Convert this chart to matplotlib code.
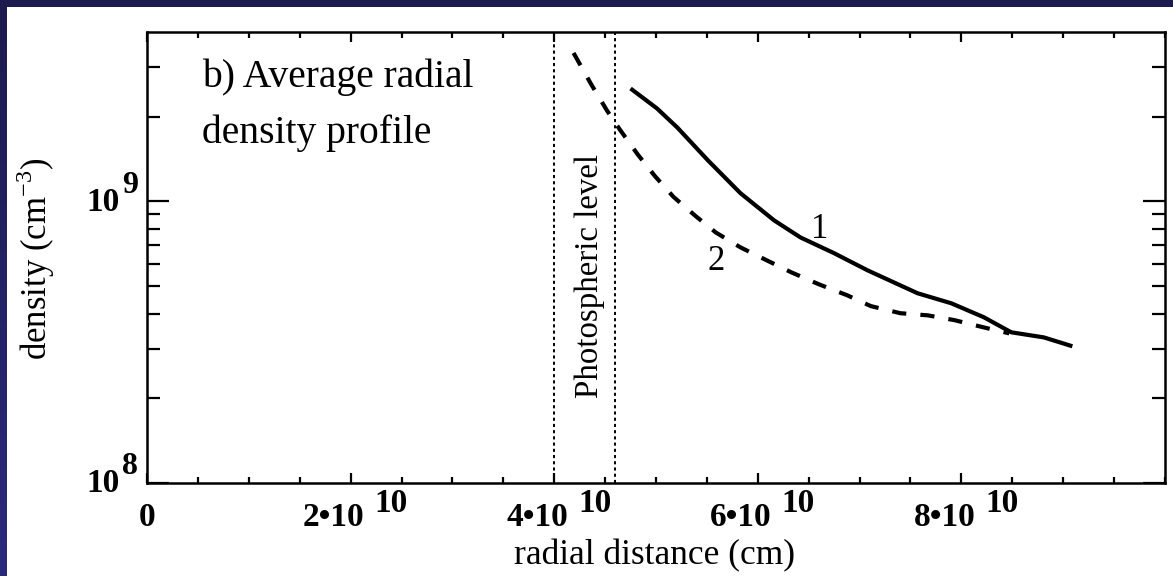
import numpy as np
import matplotlib
matplotlib.use("Agg")
import matplotlib.pyplot as plt
import matplotlib.transforms as mtransforms
from matplotlib.colors import LinearSegmentedColormap

# ---------------- data ----------------
r1 = [47.5, 50.1, 52.1, 55.1, 58.3, 61.6, 64.2, 67.5, 70.8, 75.7, 79.0, 82.2, 84.9, 88.1, 90.9]  # 1e9 cm
n1 = [2.52e9, 2.14e9, 1.83e9, 1.40e9, 1.07e9, 8.57e8, 7.45e8, 6.55e8, 5.69e8, 4.72e8, 4.35e8,
      3.88e8, 3.43e8, 3.29e8, 3.06e8]
r2 = [41.9, 43.6, 45.2, 46.5, 48.2, 49.9, 51.7, 53.9, 55.9, 58.3, 60.6, 63.3, 66.0, 68.8, 71.1,
      74.0, 76.7, 79.3, 82.2, 84.7]
n2 = [3.37e9, 2.62e9, 2.10e9, 1.79e9, 1.47e9, 1.23e9, 1.04e9, 8.87e8, 7.75e8, 6.87e8, 6.25e8,
      5.60e8, 5.08e8, 4.64e8, 4.25e8, 4.01e8, 3.94e8, 3.79e8, 3.57e8, 3.40e8]
photo_levels = [4.0e10, 4.6e10]
xticks_major = [0, 2e10, 4e10, 6e10, 8e10]
xtick_bases = ["0", "2\u202210", "4\u202210", "6\u202210", "8\u202210"]
xtick_sups = ["", "10", "10", "10", "10"]
yticks_major = [1e8, 1e9]
ytick_sups = ["8", "9"]
yticks_minor = [2e8, 3e8, 4e8, 5e8, 6e8, 7e8, 8e8, 9e8, 2e9, 3e9]

SERIF = "Liberation Serif"
plt.rcParams["mathtext.fontset"] = "custom"
plt.rcParams["mathtext.rm"] = SERIF

fig = plt.figure(figsize=(11.73, 5.76), dpi=100)
fig.patch.set_facecolor("white")

# dark blue frame strips (top and left)
grad = np.linspace(0, 1, 256).reshape(-1, 1)
axl = fig.add_axes([0, 0, 7 / 1173, 1])
cm = LinearSegmentedColormap.from_list("b", ["#1c1a4e", "#2a2a7c"])
axl.imshow(grad, aspect="auto", cmap=cm, origin="upper")
axl.axis("off")
axt = fig.add_axes([0, 1 - 7 / 576, 1, 7 / 576])
axt.set_facecolor("#1c1a4e")
axt.set_xticks([]); axt.set_yticks([])
for s in axt.spines.values():
    s.set_visible(False)

ax = fig.add_axes([147 / 1173, 1 - 483 / 576, (1165 - 147) / 1173, (483 - 32) / 576])
ax.set_yscale("log")
ax.set_xlim(0, 1e11)
ax.set_ylim(1e8, 4e9)

x1 = np.array(r1) * 1e9
x2 = np.array(r2) * 1e9
ax.plot(x1, n1, color="black", lw=3.0, solid_capstyle="butt", solid_joinstyle="round")
ax.plot(x2, n2, color="black", lw=3.0, dashes=(3.4, 3.4))
for xv in photo_levels:
    ax.axvline(xv, color="black", lw=1.4, linestyle=(0, (1.6, 1.6)))

for s in ax.spines.values():
    s.set_linewidth(1.8)

ax.set_xticks(xticks_major)
ax.set_xticks(np.arange(0, 1.0001e11, 0.5e10), minor=True)
ax.set_yticks(yticks_major)
ax.set_yticks(yticks_minor, minor=True)
ax.set_xticklabels([])
ax.set_yticklabels([])
ax.yaxis.set_minor_formatter(matplotlib.ticker.NullFormatter())
ax.tick_params(axis="x", which="major", direction="in", length=7.5, width=1.6, top=True, bottom=True)
ax.tick_params(axis="x", which="minor", direction="in", length=4, width=1.6, top=True, bottom=True)
ax.tick_params(axis="y", which="major", direction="in", length=16, width=1.6, left=True, right=True)
ax.tick_params(axis="y", which="minor", direction="in", length=9.5, width=1.6, left=True, right=True)

# x tick labels
xtr = ax.get_xaxis_transform()
for xv, b, sp in zip(xticks_major, xtick_bases, xtick_sups):
    if sp == "":
        ax.text(xv, 0, b, transform=mtransforms.offset_copy(xtr, fig=fig, x=0, y=-35, units="dots"),
                ha="center", va="center", fontsize=24, family=SERIF, fontweight="bold")
    else:
        ax.text(xv, 0, b, transform=mtransforms.offset_copy(xtr, fig=fig, x=14, y=-35, units="dots"),
                ha="right", va="center", fontsize=24, family=SERIF, fontweight="bold")
        ax.text(xv, 0, sp, transform=mtransforms.offset_copy(xtr, fig=fig, x=24, y=-20, units="dots"),
                ha="left", va="center", fontsize=24, family=SERIF, fontweight="bold")

# y tick labels
ytr = ax.get_yaxis_transform()
for yv, sp in zip(yticks_major, ytick_sups):
    ax.text(0, yv, "10", transform=mtransforms.offset_copy(ytr, fig=fig, x=-27, y=-1, units="dots"),
            ha="right", va="center", fontsize=24, family=SERIF, fontweight="bold")
    ax.text(0, yv, sp, transform=mtransforms.offset_copy(ytr, fig=fig, x=-25, y=16, units="dots"),
            ha="left", va="center", fontsize=23, family=SERIF, fontweight="bold")

fig.text(655 / 1173, 1 - 556 / 576, "radial distance (cm)", fontsize=25.5, family=SERIF,
         ha="center", va="center")
fig.text(36 / 1173, 1 - 259 / 576, r"density (cm$^{-3}$)", rotation=90, fontsize=25,
         family=SERIF, ha="center", va="center")

fig.text(202 / 1173, 1 - 77 / 576, "b) Average radial",
         fontsize=28.5, family=SERIF, ha="left", va="center")
fig.text(202 / 1173, 1 - 133 / 576, "density profile",
         fontsize=28.5, family=SERIF, ha="left", va="center")
fig.text(590 / 1173, 1 - 276 / 576, "Photospheric level",
         rotation=90, fontsize=23.7, family=SERIF, ha="center", va="center")
fig.text(820 / 1173, 1 - 229 / 576, "1", fontsize=25, family=SERIF, ha="center", va="center")
fig.text(716 / 1173, 1 - 261 / 576, "2", fontsize=25, family=SERIF, ha="center", va="center")

fig.savefig("out.png", dpi=100, facecolor="white")
